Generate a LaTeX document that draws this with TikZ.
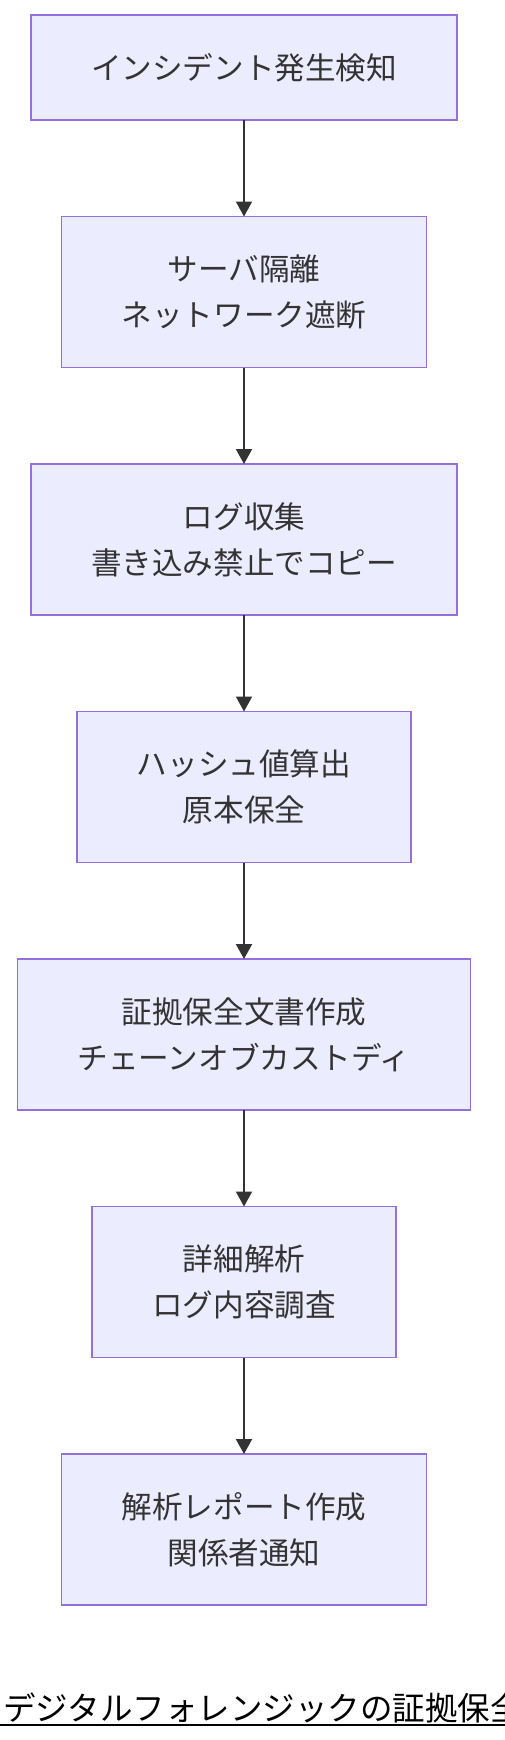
\documentclass[tikz,border=0pt]{standalone}
\usepackage{fontspec}
\setmainfont{Noto Sans CJK JP}
\usetikzlibrary{positioning,arrows.meta}
\definecolor{boxfill}{HTML}{ECECFF}
\definecolor{boxline}{HTML}{9370DB}
\definecolor{ink}{HTML}{333333}
\tikzset{
  stage/.style={draw=boxline, fill=boxfill, line width=0.75pt, text=ink,
    font=\fontsize{15.3}{23}\selectfont, align=center, outer sep=0pt,
    inner xsep=30pt, inner ysep=0pt, minimum height=75.5pt},
  onestage/.style={stage, minimum height=52.5pt},
  flow/.style={-{Triangle[length=7.5pt,width=8pt]}, draw=ink, line width=1pt}
}

\begin{document}
\begin{tikzpicture}
\useasboundingbox (0,0) rectangle (252pt,-870pt);
\node[onestage] (detect) at (122pt,-33.75pt) {インシデント発生検知};
\node[stage, below=48.25pt of detect] (isolate) {サーバ隔離\\ネットワーク遮断};
\node[stage, below=48.25pt of isolate] (collect) {ログ収集\\書き込み禁止でコピー};
\node[stage, below=48.25pt of collect] (hash) {ハッシュ値算出\\原本保全};
\node[stage, below=48.25pt of hash] (custody) {証拠保全文書作成\\チェーンオブカストディ};
\node[stage, below=48.25pt of custody] (analyse) {詳細解析\\ログ内容調査};
\node[stage, below=48.25pt of analyse] (report) {解析レポート作成\\関係者通知};
\draw[flow] (detect) -- (isolate);
\draw[flow] (isolate) -- (collect);
\draw[flow] (collect) -- (hash);
\draw[flow] (hash) -- (custody);
\draw[flow] (custody) -- (analyse);
\draw[flow] (analyse) -- (report);
\node[anchor=base west, inner xsep=0pt, font=\fontsize{16.25}{16.25}\selectfont] (title) at (1.5pt,-860pt) {デジタルフォレンジックの証拠保全};
\draw[line width=1pt] ([xshift=-1.5pt,yshift=-2.5pt]title.base west) -- ([yshift=-2.5pt]title.base east);
\end{tikzpicture}
\end{document}
